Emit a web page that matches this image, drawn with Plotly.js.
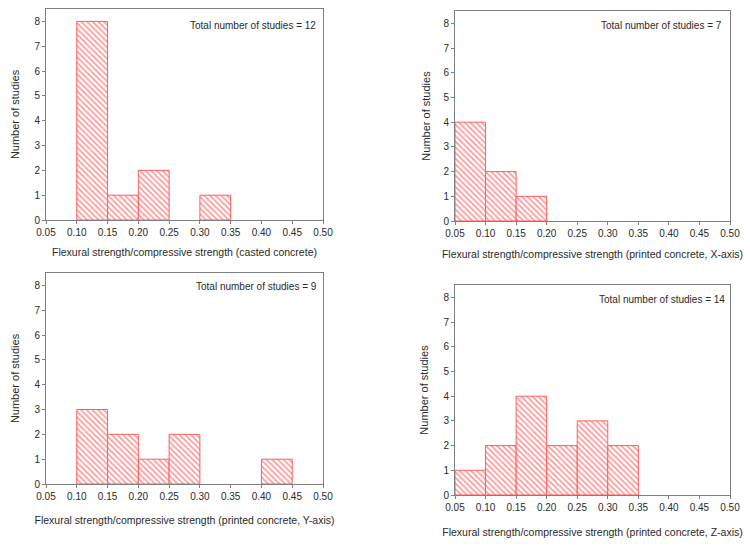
<!DOCTYPE html>
<html>
<head>
<meta charset="utf-8">
<script src="https://cdn.plot.ly/plotly-3.0.1.min.js"></script>
<style>html,body{margin:0;padding:0;background:#fff}#chart{width:750px;height:546px}</style>
</head>
<body>
<div id="chart"></div>
<script>
// Bin centers (bin width 0.05) and counts for each panel
const castedBins = [0.125, 0.175, 0.225, 0.325];
const castedCounts = [8, 1, 2, 1];

const xAxisBins = [0.075, 0.125, 0.175];
const xAxisCounts = [4, 2, 1];

const yAxisBins = [0.125, 0.175, 0.225, 0.275, 0.425];
const yAxisCounts = [3, 2, 1, 2, 1];

const zAxisBins = [0.075, 0.125, 0.175, 0.225, 0.275, 0.325];
const zAxisCounts = [1, 2, 4, 2, 3, 2];

const totals = [12, 7, 9, 14];
const xTitles = [
  "Flexural strength/compressive strength (casted concrete)",
  "Flexural strength/compressive strength (printed concrete, X-axis)",
  "Flexural strength/compressive strength (printed concrete, Y-axis)",
  "Flexural strength/compressive strength (printed concrete, Z-axis)"
];
const yTitle = "Number of studies";
const xTickVals = [0.05, 0.10, 0.15, 0.20, 0.25, 0.30, 0.35, 0.40, 0.45, 0.50];
const binWidth = 0.05;

const panels = [
  {bins: castedBins, counts: castedCounts},
  {bins: xAxisBins, counts: xAxisCounts},
  {bins: yAxisBins, counts: yAxisCounts},
  {bins: zAxisBins, counts: zAxisCounts}
];

const red = "rgb(255,95,95)";
const traces = panels.map((p, i) => ({
  type: "bar",
  x: p.bins,
  y: p.counts,
  width: p.bins.map(() => binWidth),
  xaxis: i === 0 ? "x" : "x" + (i + 1),
  yaxis: i === 0 ? "y" : "y" + (i + 1),
  marker: {
    color: "white",
    line: {color: red, width: 1},
    pattern: {shape: "\\", fgcolor: "rgb(255,150,150)", bgcolor: "white", size: 4, solidity: 0.4}
  },
  showlegend: false,
  hoverinfo: "x+y"
}));

const W = 750, H = 546;
// pixel boxes [left, right, top, bottom]
const boxes = [
  [46, 323, 9, 220],
  [455, 730, 11, 221],
  [46, 323, 273, 484],
  [455, 730, 285, 495]
];
const xStandoff = [11, 12, 15, 16];
const yStandoff = [12, 10, 12, 12];
const annX = [0.982, 0.979, 0.986, 0.989];
const annY = [0.921, 0.929, 0.934, 0.929];

const fam = "Liberation Sans, Arial, sans-serif";
const txt = "#2a2a2a";
const layout = {
  width: W, height: H,
  margin: {l: 0, r: 0, t: 0, b: 0},
  paper_bgcolor: "white",
  plot_bgcolor: "white",
  font: {family: fam, size: 10, color: txt},
  bargap: 0,
  annotations: [],
  showlegend: false
};

boxes.forEach((b, i) => {
  const sx = i === 0 ? "" : String(i + 1);
  layout["xaxis" + sx] = {
    domain: [b[0] / W, b[1] / W],
    anchor: "y" + sx,
    range: [0.05, 0.5],
    tickvals: xTickVals,
    tickformat: ".2f",
    ticks: "outside", ticklen: 3, tickcolor: "#808080",
    showline: true, linecolor: "#808080", linewidth: 1, mirror: true,
    showgrid: false, zeroline: false,
    tickfont: {family: fam, size: 10, color: txt},
    title: {text: xTitles[i], standoff: xStandoff[i], font: {family: fam, size: 10.5, color: txt}},
    fixedrange: true
  };
  layout["yaxis" + sx] = {
    domain: [(H - b[3]) / H, (H - b[2]) / H],
    anchor: "x" + sx,
    range: [0, 8.5],
    dtick: 1,
    tick0: 0,
    ticks: "outside", ticklen: 3, tickcolor: "#808080",
    showline: true, linecolor: "#808080", linewidth: 1, mirror: true,
    showgrid: false, zeroline: false,
    tickfont: {family: fam, size: 10, color: txt},
    title: {text: yTitle, standoff: yStandoff[i], font: {family: fam, size: 11, color: txt}},
    fixedrange: true
  };
  layout.annotations.push({
    xref: "x" + sx + " domain", yref: "y" + sx + " domain",
    x: annX[i], y: annY[i], xanchor: "right", yanchor: "middle",
    text: "Total number of studies = " + totals[i],
    showarrow: false,
    font: {family: fam, size: 10, color: txt}
  });
});

Plotly.newPlot("chart", traces, layout, {displayModeBar: false, staticPlot: true});
</script>
</body>
</html>
